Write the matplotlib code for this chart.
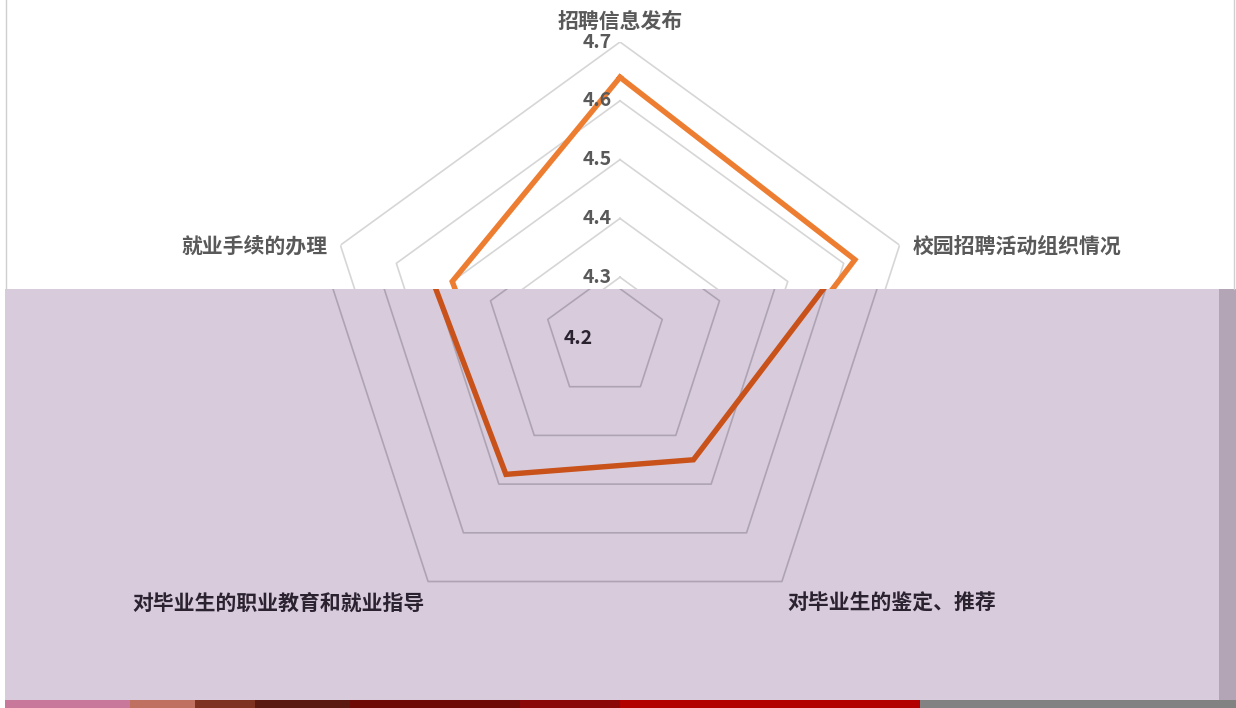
import numpy as np
import matplotlib
matplotlib.use("Agg")
import matplotlib.pyplot as plt
from matplotlib.patches import Rectangle
from matplotlib.lines import Line2D

plt.rcParams['font.family'] = ['Noto Sans CJK SC', 'DejaVu Sans']

# ---- data ----
categories = ["招聘信息发布", "校园招聘活动组织情况", "对毕业生的鉴定、推荐",
              "对毕业生的职业教育和就业指导", "就业手续的办理"]
values = [4.64, 4.62, 4.45, 4.48, 4.50]
ring_levels = [4.3, 4.4, 4.5, 4.6, 4.7]
tick_labels = ["4.2", "4.3", "4.4", "4.5", "4.6", "4.7"]
r_min, r_max = 4.2, 4.7

W, H = 1236, 708
fig = plt.figure(figsize=(W / 100, H / 100), dpi=100)
fig.patch.set_facecolor('white')

n = len(categories)
theta = np.linspace(0, 2 * np.pi, n, endpoint=False)
theta_c = np.append(theta, theta[0])


def make_axes(cx, cy, R, zorder):
    ax = fig.add_axes([(cx - R) / W, (H - cy - R) / H, 2 * R / W, 2 * R / H],
                      projection='polar', zorder=zorder)
    ax.set_theta_offset(np.pi / 2)
    ax.set_theta_direction(-1)
    ax.set_ylim(r_min, r_max)
    ax.set_xticks([])
    ax.set_yticks([])
    ax.grid(False)
    ax.spines['polar'].set_visible(False)
    ax.patch.set_alpha(0)
    return ax


def draw(ax, grid_color, line_color, text_color, clip=None, which_labels=(0, 1, 4),
         tick_sel=None):
    arts = []
    for lv in ring_levels:
        l, = ax.plot(theta_c, [lv] * (n + 1), color=grid_color, lw=1.2, zorder=1)
        arts.append(l)
    vc = values + values[:1]
    l, = ax.plot(theta_c, vc, color=line_color, lw=3.9, zorder=3,
                 solid_joinstyle='miter')
    arts.append(l)
    if clip is not None:
        for a in arts:
            a.set_clip_path(clip)
    if tick_sel is not None:
        for i in tick_sel:
            lab = tick_labels[i]
            r = float(lab)
            off = -12 if r == r_min else -8
            ax.annotate(lab, xy=(0, r), xytext=(off, 0), textcoords='offset pixels',
                        ha='right', va='center', fontsize=14, fontweight='bold',
                        color=text_color, zorder=5, annotation_clip=False)
    offs = {0: (0, 21, 'center', 'center'),
            1: (13, -1, 'left', 'center'),
            2: (5, -22, 'left', 'center'),
            3: (-3, -22, 'right', 'center'),
            4: (-13, -1, 'right', 'center')}
    for i in which_labels:
        dx, dy, ha, va = offs[i]
        ax.annotate(categories[i], xy=(theta[i], r_max), xytext=(dx, dy),
                    textcoords='offset pixels', ha=ha, va=va, fontsize=15,
                    fontweight='bold', color=text_color, zorder=5,
                    annotation_clip=False)


# upper (normal) rendering
ax_top = make_axes(620, 336, 294, zorder=1)
draw(ax_top, '#d6d6d6', '#ed7d31', '#595959', which_labels=(0, 1, 4),
     tick_sel=[1, 2, 3, 4, 5])

# lower tinted band
y_top, y_bot = 289, 700
fig.add_artist(Rectangle((5 / W, (H - y_bot) / H), (1219 - 5) / W, (y_bot - y_top) / H,
                         transform=fig.transFigure, facecolor='#d8ccdc',
                         edgecolor='none', zorder=2))
fig.add_artist(Rectangle((1219 / W, (H - y_bot) / H), (W - 1219) / W,
                         (y_bot - y_top) / H, transform=fig.transFigure,
                         facecolor='#b3a4b6', edgecolor='none', zorder=2))
fig.add_artist(Rectangle((0, (H - y_bot) / H), 5 / W, (y_bot - y_top) / H,
                         transform=fig.transFigure, facecolor='#ffffff',
                         edgecolor='none', zorder=2))
strip = [(5, 130, '#c8789a'), (130, 195, '#c07060'), (195, 255, '#7e3322'),
         (255, 350, '#5a1a12'), (350, 520, '#6e0a06'), (520, 620, '#8a0808'),
         (620, 920, '#b20000'), (920, 1236, '#828282')]
for x0, x1, c in strip:
    fig.add_artist(Rectangle((x0 / W, 0), (x1 - x0) / W, (H - y_bot) / H,
                             transform=fig.transFigure, facecolor=c,
                             edgecolor='none', zorder=2))
fig.add_artist(Line2D([5.5 / W, 5.5 / W], [(H - y_top) / H, 1], transform=fig.transFigure,
                      color='#cfcfcf', lw=1, zorder=2))
fig.add_artist(Line2D([1233.5 / W, 1233.5 / W], [(H - y_top) / H, 1],
                      transform=fig.transFigure, color='#cfcfcf', lw=1, zorder=2))

# lower (shifted) rendering, clipped to the band
clip_rect = Rectangle((5 / W, (H - y_bot) / H), (1219 - 5) / W, (y_bot - y_top) / H,
                      transform=fig.transFigure, facecolor='none', edgecolor='none')
ax_low = make_axes(605, 338, 301, zorder=3)
draw(ax_low, '#ada3b3', '#c8521a', '#2b2230', clip=clip_rect, which_labels=(2, 3),
     tick_sel=[0])

fig.savefig('out.png', dpi=100)
